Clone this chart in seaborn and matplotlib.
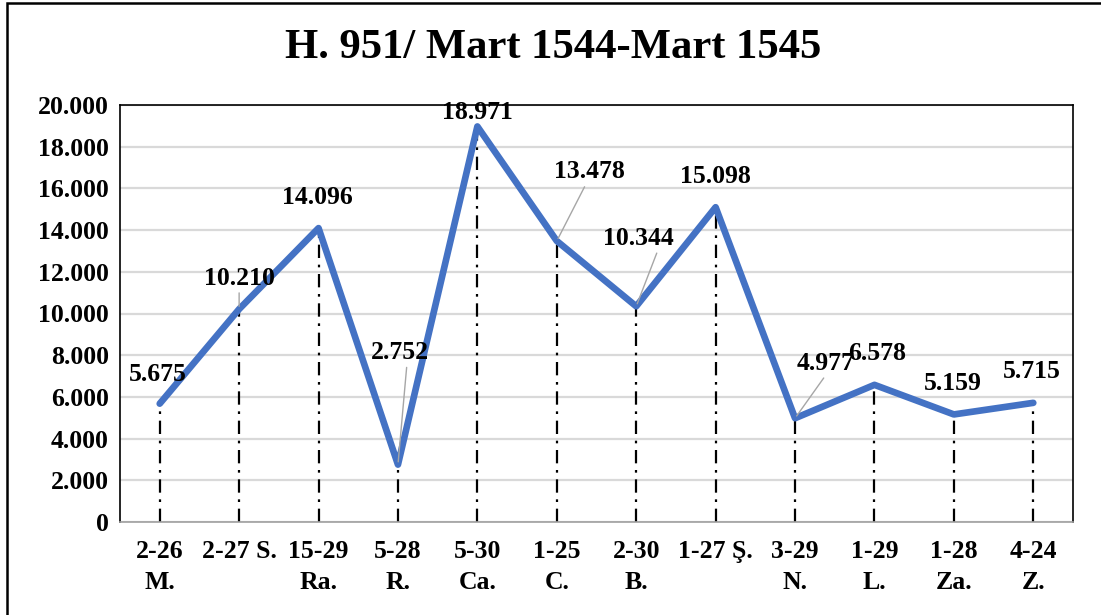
import numpy as np
import pandas as pd
import matplotlib
matplotlib.use('Agg')
import matplotlib.pyplot as plt
from matplotlib.patches import Rectangle
from matplotlib.ticker import FuncFormatter, MultipleLocator
import seaborn as sns


######
# Data
######
days = ['2-26', '2-27 S.', '15-29', '5-28', '5-30', '1-25',
        '2-30', '1-27 Ş.', '3-29', '1-29', '1-28', '4-24']
months = ['M.', '', 'Ra.', 'R.', 'Ca.', 'C.',
          'B.', '', 'N.', 'L.', 'Za.', 'Z.']
values = [5675, 10210, 14096, 2752, 18971, 13478,
          10344, 15098, 4977, 6578, 5159, 5715]
value_labels = ['5.675', '10.210', '14.096', '2.752', '18.971', '13.478',
                '10.344', '15.098', '4.977', '6.578', '5.159', '5.715']

title = 'H. 951/ Mart 1544-Mart 1545'


#######
# Style
#######
sns.set_style('white')
plt.rcParams['font.family'] = ['Liberation Serif', 'DejaVu Serif']
plt.rcParams['font.weight'] = 'bold'
plt.rcParams['text.color'] = 'black'
plt.rcParams['xtick.color'] = 'black'
plt.rcParams['ytick.color'] = 'black'

line_color = '#4472C4'
px = 0.72  # one pixel in points at dpi 100
fs = 18.5

# label offsets in pixels (dx, dy); leader line start (relpos) or None
label_offsets = [(-2, 29), (0, 31), (-1, 31), (2, 112), (0, 14), (33, 69),
                 (2, 68), (0, 31), (31, 55), (3, 31), (-1, 31), (-1, 31)]
leader = [None, (0.5, 0), None, (0.62, 0), None, (0.45, 0),
          (0.78, 0), None, (0.5, 0), None, None, None]


######
# Plot
######
df = pd.DataFrame({'pos': np.arange(len(values)), 'value': values})

fig = plt.figure(figsize=(11.01, 6.15), dpi=100)
ax = fig.add_axes([120 / 1101, 1 - 522 / 615, (1073 - 120) / 1101, (522 - 105) / 615])

ax.set_ylim(0, 20000)
ax.set_xlim(-0.5, len(values) - 0.5)
ax.yaxis.set_major_locator(MultipleLocator(2000))
ax.grid(axis='y', color='#d9d9d9', lw=1.6)
ax.set_axisbelow(True)

# drop lines
ax.vlines(df['pos'], 0, df['value'], colors='black', lw=1.6,
          linestyles=[(0, (6, 3, 1.2, 3))], zorder=2)

sns.lineplot(data=df, x='pos', y='value', ax=ax, color=line_color,
             lw=4.8, sort=False, zorder=3, solid_capstyle='round')

for i, (v, lab) in enumerate(zip(values, value_labels)):
    dx, dy = label_offsets[i]
    arrow = None
    if leader[i] is not None:
        arrow = dict(arrowstyle='-', color='#a6a6a6', lw=1, shrinkA=0, shrinkB=2,
                     relpos=leader[i])
    ax.annotate(lab, xy=(i, v), xytext=(dx * px, dy * px), textcoords='offset points',
                ha='center', va='center', fontsize=fs, fontweight='bold',
                arrowprops=arrow, zorder=4)

ax.set_xticks(df['pos'])
ax.set_xticklabels([d + '\n' + m for d, m in zip(days, months)],
                   fontsize=fs, fontweight='bold', linespacing=1.45)
ax.tick_params(axis='x', length=0, pad=13)
ax.tick_params(axis='y', length=0, pad=8, labelsize=fs)
ax.yaxis.set_major_formatter(FuncFormatter(lambda v, p: f'{v:,.0f}'.replace(',', '.')))
for t in ax.get_yticklabels():
    t.set_fontweight('bold')
ax.set_xlabel('')
ax.set_ylabel('')

for side in ['left', 'top', 'right']:
    ax.spines[side].set_color('black')
    ax.spines[side].set_linewidth(1.2)
ax.spines['bottom'].set_color('#a0a0a0')
ax.spines['bottom'].set_linewidth(1.2)

fig.text(553 / 1101, 1 - 48 / 615, title, ha='center', va='center',
         fontsize=30.7, fontweight='bold')

# outer chart frame (cut off at right and bottom)
fig.patches.append(Rectangle((7 / 1101, -0.1), 1.2, 1.1 - 3 / 615,
                             transform=fig.transFigure, fill=False,
                             edgecolor='black', lw=1.8))

fig.savefig('out.png', dpi=100)
